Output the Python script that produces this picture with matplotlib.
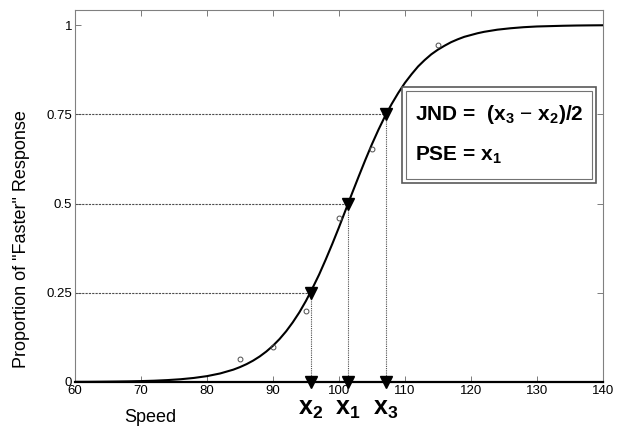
import numpy as np
import matplotlib.pyplot as plt
from matplotlib.patches import Rectangle

plt.rcParams['font.family'] = 'Liberation Sans'
plt.rcParams['mathtext.fontset'] = 'custom'
plt.rcParams['mathtext.rm'] = 'Liberation Sans'
plt.rcParams['mathtext.bf'] = 'Liberation Sans:bold'

# fitted psychometric curve
curve_x = [60, 62, 64, 66, 68, 70, 72, 74, 76, 78, 80, 82, 84, 85, 86, 87,
           88, 89, 90, 91, 92, 93, 94, 95, 96, 97, 98, 99, 100, 101, 102,
           103, 104, 105, 106, 107, 108, 109, 110, 111, 112, 113, 114, 115,
           116, 117, 118, 119, 120, 121, 122, 123, 124, 126, 128, 130, 132,
           134, 136, 138, 140]
curve_y = [0.0004, 0.0005, 0.0008, 0.0012, 0.0017, 0.0025, 0.0036, 0.0053,
           0.0077, 0.0113, 0.0164, 0.0239, 0.0346, 0.0417, 0.050, 0.0599,
           0.0716, 0.0854, 0.1015, 0.1203, 0.142, 0.167, 0.195, 0.227,
           0.263, 0.301, 0.343, 0.387, 0.433, 0.481, 0.529, 0.576, 0.622,
           0.666, 0.707, 0.745, 0.779, 0.810, 0.838, 0.862, 0.884, 0.902,
           0.918, 0.931, 0.942, 0.952, 0.960, 0.967, 0.972, 0.977, 0.981,
           0.984, 0.987, 0.991, 0.994, 0.996, 0.997, 0.998, 0.9987, 0.9991,
           0.9994]

# observed proportions
obs_x = [85, 90, 95, 100, 105, 115]
obs_y = [0.065, 0.098, 0.20, 0.46, 0.653, 0.944]

# threshold points
levels = [0.25, 0.5, 0.75]
thresh_x = [95.7, 101.4, 107.1]
thresh_names = [r'$\mathbf{x}_\mathbf{2}$', r'$\mathbf{x}_\mathbf{1}$', r'$\mathbf{x}_\mathbf{3}$']

fig = plt.figure(figsize=(6.26, 4.28), dpi=100)
ax = fig.add_axes([0.1198, 0.1075, 0.8432, 0.869])

for lv, tx in zip(levels, thresh_x):
    ax.plot([60, tx], [lv, lv], color='0.3', lw=0.8, ls=(0, (2, 1)))
    ax.plot([tx, tx], [0, lv], color='0.3', lw=0.8, ls=(0, (1, 1)))

ax.plot(curve_x, curve_y, color='black', lw=1.5, zorder=3)
ax.plot(obs_x, obs_y, 'o', mfc='none', mec='0.3', ms=3.5, mew=0.7, zorder=4)

ax.plot(thresh_x, levels, 'v', color='black', ms=8, zorder=5, clip_on=False)
ax.plot(thresh_x, [0, 0, 0], 'v', color='black', ms=8, zorder=5, clip_on=False)

for tx, nm in zip(thresh_x, thresh_names):
    ax.text(tx, -0.075, nm, fontsize=18, ha='center', va='center')

ax.set_xlim(60, 140)
ax.set_ylim(0, 1.042)
ax.set_xticks(range(60, 141, 10))
ax.set_yticks([0, 0.25, 0.5, 0.75, 1])
ax.set_yticklabels(['0', '0.25', '0.5', '0.75', '1'])
ax.tick_params(direction='in', length=4, width=0.6, color='0.4',
               labelsize=9.5, top=True, right=True, pad=2)

for s in ['top', 'right', 'left']:
    ax.spines[s].set_color('0.5')
    ax.spines[s].set_linewidth(0.8)
ax.spines['bottom'].set_color('black')
ax.spines['bottom'].set_linewidth(1.6)

fig.text(22 / 626, 1 - 239 / 428, 'Proportion of "Faster" Response', fontsize=13,
         rotation=90, ha='center', va='center')
fig.text(150 / 626, 1 - 417 / 428, 'Speed', fontsize=13, ha='center', va='center')

# annotation box with double border
box_ax = fig.add_axes([402 / 626, 1 - 183 / 428, 194 / 626, 96 / 428])
box_ax.set_xlim(0, 1)
box_ax.set_ylim(0, 1)
box_ax.axis('off')
box_ax.add_patch(Rectangle((0, 0), 1, 1, transform=box_ax.transAxes,
                           facecolor='white', edgecolor='0.35', lw=1.2, clip_on=False))
box_ax.add_patch(Rectangle((0.02, 0.04), 0.96, 0.92, transform=box_ax.transAxes,
                           facecolor='none', edgecolor='0.45', lw=0.8, clip_on=False))
box_ax.text(0.065, 0.71, r'JND =  (x$_\mathregular{3}$ $-$ x$_\mathregular{2}$)/2',
            fontsize=15, fontweight='bold', va='center')
box_ax.text(0.065, 0.29, r'PSE = x$_\mathregular{1}$', fontsize=15,
            fontweight='bold', va='center')

fig.savefig('out.png', dpi=100)
